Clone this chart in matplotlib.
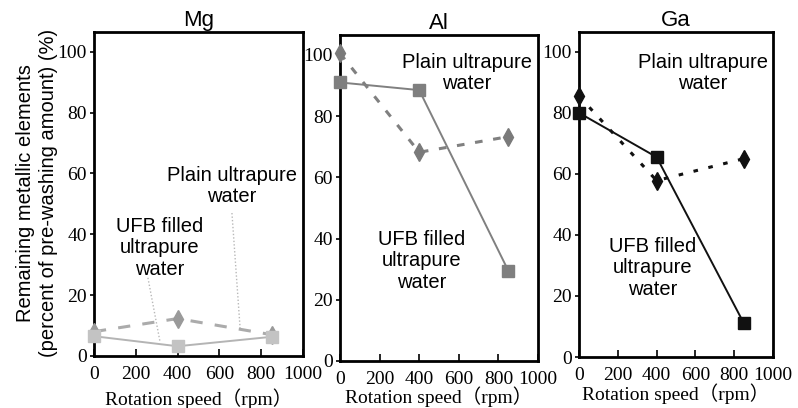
import matplotlib
matplotlib.use('Agg')
import matplotlib.pyplot as plt

# rotation speed (rpm) and remaining metal (% of pre-washing amount)
speed = [0, 400, 850]
mg_ufb = [6.5, 3.2, 6.3]
mg_plain = [8, 12.3, 7]
al_ufb = [91, 88.5, 29.5]
al_plain = [100.5, 68.2, 73.3]
ga_ufb = [80, 65.5, 11]
ga_plain = [85.5, 57.8, 65]

ticks_x = [0, 200, 400, 600, 800, 1000]
ticks_y = [0, 20, 40, 60, 80, 100]

SANS = 'Liberation Sans'
SERIF = ['Liberation Serif', 'Noto Sans CJK JP']
FS = 14.5
plt.rcParams['font.family'] = SERIF
plt.rcParams['font.size'] = 14


def draw_panel(ax, title, ufb, plain, sq_c, ln_c, di_c, da_c, dash,
               plain_xy, ufb_xy, label_y):
    ax.plot(speed, plain, color=da_c, lw=2.2, linestyle=(0, dash),
            marker='d', ms=9, mfc=di_c, mec=di_c, clip_on=False, zorder=3)
    ax.plot(speed, ufb, color=ln_c, lw=1.4, marker='s', ms=8.8,
            mfc=sq_c, mec=sq_c, clip_on=False, zorder=4)
    ax.set_xlim(0, 1000)
    ax.set_ylim(0, 106.5)
    ax.set_xticks(ticks_x)
    ax.set_yticks(ticks_y)
    ax.tick_params(axis='x', direction='in', length=5, width=1.2, pad=7,
                   labelsize=14)
    ax.tick_params(axis='y', direction='out', length=3, width=1.2, pad=2,
                   labelsize=14)
    for sp in ax.spines.values():
        sp.set_linewidth(2)
    ax.set_title(title, family=SANS, fontsize=16, pad=4)
    ax.set_xlabel('Rotation speed（rpm）', fontsize=14, va='center')
    ax.xaxis.set_label_coords(0.5, label_y)
    ax.text(plain_xy[0], plain_xy[1], 'Plain ultrapure\nwater', family=SANS,
            fontsize=FS, ha='center', va='center', linespacing=1.15)
    ax.text(ufb_xy[0], ufb_xy[1], 'UFB filled\nultrapure\nwater',
            family=SANS, fontsize=FS, ha='center', va='center',
            linespacing=1.15)


fig = plt.figure(figsize=(7.98, 4.08), dpi=100)
ax1 = fig.add_axes([0.1178, 0.1275, 0.2619, 0.794])
ax2 = fig.add_axes([0.4261, 0.1152, 0.2481, 0.799])
ax3 = fig.add_axes([0.7256, 0.125, 0.2431, 0.7966])

draw_panel(ax1, 'Mg', mg_ufb, mg_plain, '#c3c3c3', '#b4b4b4', '#9a9a9a',
           '#ababab', (4, 4), (660, 56), (316, 35.5), -0.133)
ax1.plot([660, 699], [47, 9.2], color='#b8b8b8', lw=1, linestyle=(0, (1, 1.5)))
ax1.plot([258, 316], [25.7, 4.6], color='#b8b8b8', lw=1, linestyle=(0, (1, 1.5)))

draw_panel(ax2, 'Al', al_ufb, al_plain, '#7f7f7f', '#808080', '#7a7a7a',
           '#808080', (2.5, 3.5), (641, 94), (414, 32.7), -0.110)
draw_panel(ax3, 'Ga', ga_ufb, ga_plain, '#111111', '#111111', '#111111',
           '#111111', (1.5, 3.5), (639, 93), (381, 29.2), -0.114)

fig.text(0.046, 0.527,
         'Remaining metallic elements\n(percent of pre-washing amount) (%)',
         family=SANS, fontsize=FS, rotation=90, ha='center', va='center',
         linespacing=1.25)

fig.savefig('out.png', dpi=100)
